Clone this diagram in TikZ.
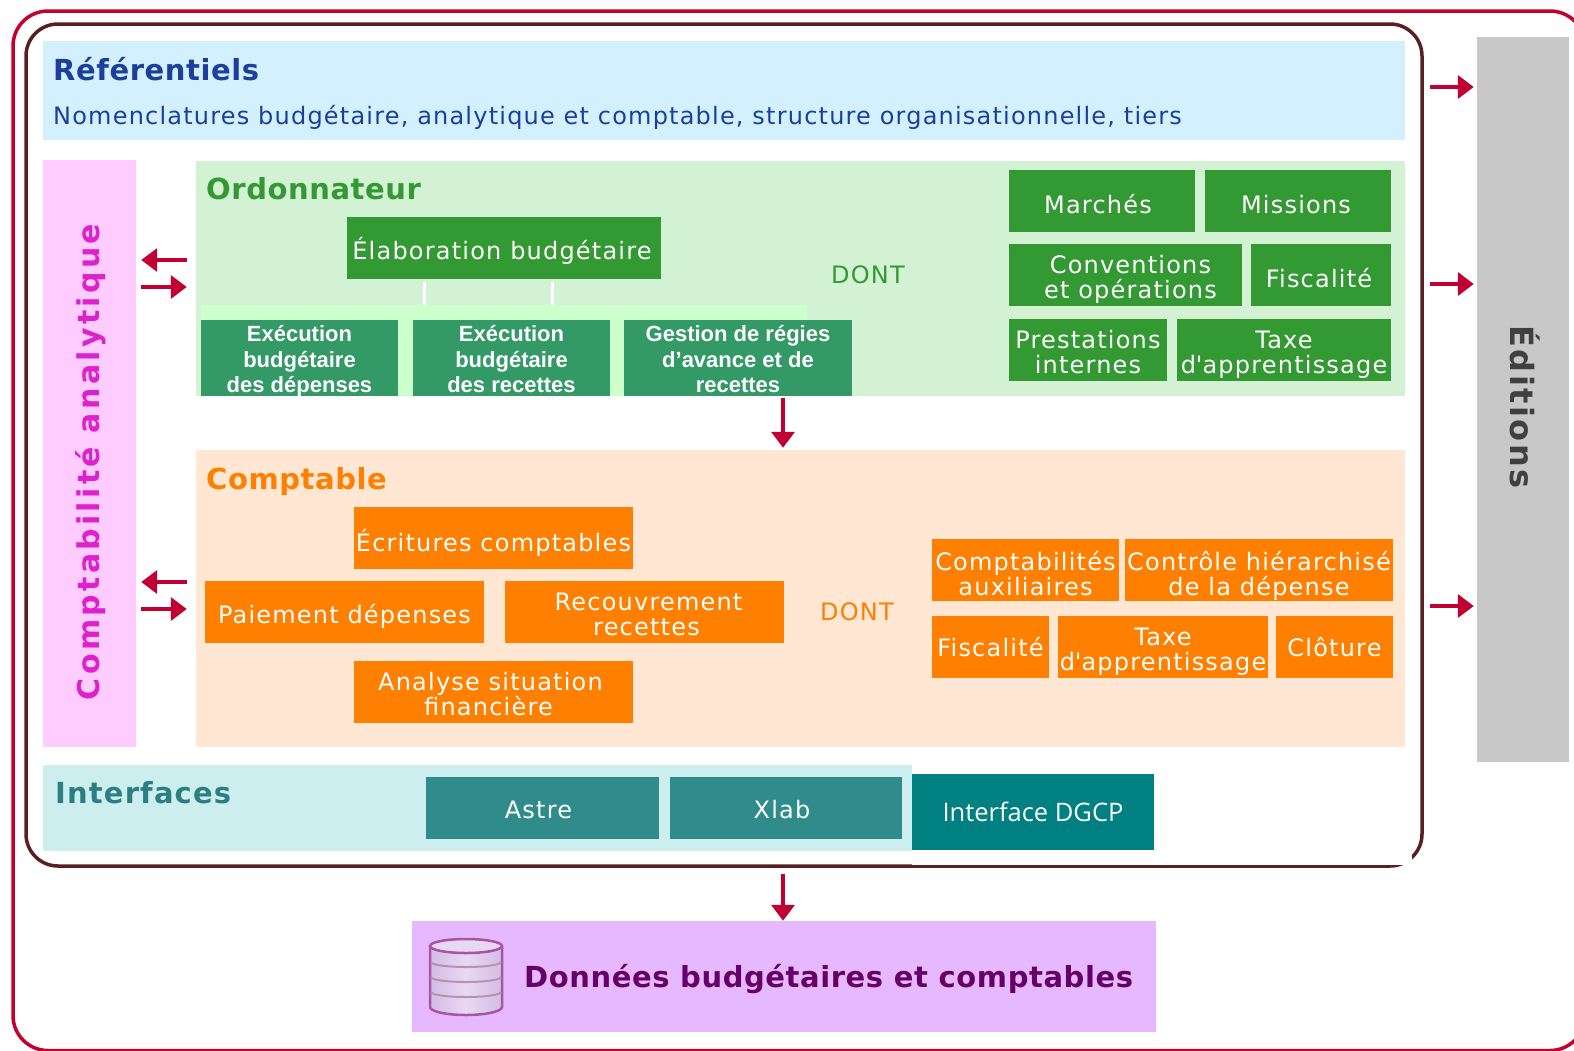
\documentclass[tikz,border=0pt]{standalone}
\usepackage{fontspec}
\setmainfont[LetterSpace=5]{DejaVu Sans}
\newfontfamily\titlefont[LetterSpace=2]{DejaVu Sans}
\newfontfamily\widefont[LetterSpace=11]{DejaVu Sans}
\newfontfamily\editfont[LetterSpace=7.5]{DejaVu Sans}
\newfontfamily\interfont[LetterSpace=4]{DejaVu Sans}
\newfontfamily\arialfont{Liberation Sans}
\newfontfamily\dgcpfont{Open Sans}
\usetikzlibrary{arrows.meta}
\definecolor{framered}{HTML}{C4002F}
\definecolor{framedark}{HTML}{5A1F22}
\definecolor{flowred}{HTML}{C00033}
\definecolor{refblue}{HTML}{D4F0FF}
\definecolor{refnavy}{HTML}{1C3F9E}
\definecolor{anapink}{HTML}{FFCCFF}
\definecolor{anamagenta}{HTML}{DD22CC}
\definecolor{ordopale}{HTML}{D3F1D3}
\definecolor{ordoband}{HTML}{CCFFCC}
\definecolor{ordogreen}{HTML}{339933}
\definecolor{execgreen}{HTML}{339966}
\definecolor{comptapale}{HTML}{FFE7D3}
\definecolor{comptaorange}{HTML}{FF7F00}
\definecolor{interpale}{HTML}{CCEEEE}
\definecolor{interteal}{HTML}{2F8C8A}
\definecolor{interdark}{HTML}{2B7F7F}
\definecolor{dgcpteal}{HTML}{008080}
\definecolor{editgray}{HTML}{C8C8C8}
\definecolor{datamauve}{HTML}{E6B8FF}
\definecolor{dataplum}{HTML}{660066}
\definecolor{baseedge}{HTML}{A855A8}
\definecolor{baselight}{HTML}{E8D8F2}
\definecolor{basedark}{HTML}{D4BCE4}
\tikzset{x=1pt,y=-1pt,
    zone/.style={fill=#1,inner sep=0pt},
    boxbase/.style={inner sep=0pt,text=white,align=center,
        font=\fontsize{24}{25}\selectfont},
    oneline/.style={text depth=0pt,text height=#1},
    oneline/.default=24pt,
    twoline/.style={text depth=0pt,text height=#1},
    twoline/.default=47pt,
    ordobox/.style={boxbase,fill=ordogreen,minimum height=62pt},
    execbox/.style={boxbase,fill=execgreen,minimum height=76pt,text depth=0pt,text height=69pt,
        font=\arialfont\bfseries\fontsize{22}{25.5}\selectfont},
    orangebox/.style={boxbase,fill=comptaorange,minimum height=62pt},
    tealbox/.style={boxbase,fill=interteal,minimum height=62pt},
    zonetitle/.style={anchor=west,inner sep=0pt,font=\titlefont\bfseries\fontsize{29}{30}\selectfont},
    dont/.style={inner sep=0pt,font=\fontsize{24}{25}\selectfont},
    flow/.style={draw=flowred,line width=3.5pt,-{Triangle[length=16pt,width=23pt]}},
    stub/.style={draw=white,line width=3pt,shorten <=3pt}}

\begin{document}
\begin{tikzpicture}
\useasboundingbox (0,0) rectangle (1574,1050);
\clip (0,0) rectangle (1574,1050);
\node[draw=framered,line width=3.5pt,rounded corners=35pt,minimum width=1572pt,minimum height=1039.5pt] (outer) at (799,530.75) {};
\node[draw=framedark,line width=3.5pt,rounded corners=32pt,minimum width=1396pt,minimum height=842pt] (frame) at (724,445) {};
\fill[white] (912,851) rectangle (1412,865);

\node[zone=refblue,minimum width=1362pt,minimum height=99pt] (referentiels) at (724,90.5) {};
\node[zonetitle,text=refnavy] (reftitle) at (53,69) {Référentiels};
\node[anchor=west,inner sep=0pt,text=refnavy,font=\fontsize{24}{25}\selectfont] (reftext) at (53,117)
    {Nomenclatures budgétaire, analytique et comptable, structure organisationnelle, tiers};

\node[zone=anapink,minimum width=93pt,minimum height=587pt] (analytique) at (89.5,453.5) {};
\node[rotate=90,inner sep=0pt,text=anamagenta,font=\widefont\bfseries\fontsize{30}{30}\selectfont] (analytext) at (90.5,462) {Comptabilité analytique};

% ordonnateur
\node[zone=ordopale,minimum width=1209pt,minimum height=235pt] (ordo) at (800.5,278.5) {};
\node[zonetitle,text=ordogreen] (ordotitle) at (206,189) {Ordonnateur};
\node[ordobox,oneline=22pt,minimum width=314pt] (elab) at (504,248) {\hspace*{-4pt}Élaboration budgétaire};
\node[zone=ordoband,minimum width=606pt,minimum height=91pt] (execband) at (504,350.5) {};
\coordinate (stuba) at (424,0);
\coordinate (stubb) at (552,0);
\draw[stub] (elab.south -| stuba) -- (execband.north -| stuba);
\draw[stub] (elab.south -| stubb) -- (execband.north -| stubb);
\node[execbox,minimum width=197pt] (execdep) at (299.5,358) {Exécution\\budgétaire\\des dépenses};
\node[execbox,minimum width=197pt] (execrec) at (511.5,358) {Exécution\\budgétaire\\des recettes};
\node[execbox,minimum width=228pt] (regies) at (738,358) {Gestion de régies\\d’avance et de\\recettes};
\node[dont,text=ordogreen] (ordodont) at (868,275) {DONT};
\node[ordobox,oneline,minimum width=186pt] (marches) at (1102,201) {\hspace*{-8pt}Marchés};
\node[ordobox,oneline,minimum width=186pt] (missions) at (1298,201) {\hspace*{-4pt}Missions};
\node[ordobox,twoline,minimum width=233pt] (conv) at (1125.5,275) {\hspace*{10pt}Conventions\\\hspace*{10pt}et opérations};
\node[ordobox,oneline,minimum width=140pt] (fiscord) at (1321,275) {\hspace*{-4pt}Fiscalité};
\node[ordobox,twoline,minimum width=158pt] (prest) at (1088,350) {Prestations\\internes};
\node[ordobox,twoline,minimum width=214pt] (taxeord) at (1284,350) {Taxe\\d\textquotesingle apprentissage};

% comptable
\node[zone=comptapale,minimum width=1209pt,minimum height=297pt] (compta) at (800.5,598.5) {};
\node[zonetitle,text=comptaorange] (comptatitle) at (206,481) {Comptable};
\node[orangebox,oneline=26pt,minimum width=279pt] (ecrit) at (493.5,538) {Écritures comptables};
\node[orangebox,oneline=23pt,minimum width=279pt] (paie) at (344.5,612) {Paiement dépenses};
\node[orangebox,twoline,minimum width=279pt] (recouv) at (644.5,612) {\hspace*{8pt}Recouvrement\\\hspace*{4pt}recettes};
\node[orangebox,twoline,minimum width=279pt] (analyse) at (493.5,691.5) {\hspace*{-6pt}Analyse situation\\\hspace*{-10pt}financière};
\node[dont,text=comptaorange] (comptadont) at (857,612) {DONT};
\node[orangebox,twoline=50pt,minimum width=187pt] (caux) at (1025.5,570) {Comptabilités\\auxiliaires};
\node[orangebox,twoline=50pt,minimum width=268pt] (ctrl) at (1259,570) {Contrôle hiérarchisé\\de la dépense};
\node[orangebox,oneline=18pt,minimum width=117pt] (fisccpt) at (990.5,647) {Fiscalité};
\node[orangebox,twoline,minimum width=210pt] (taxecpt) at (1163,647) {Taxe\\d\textquotesingle apprentissage};
\node[orangebox,oneline=18pt,minimum width=117pt] (cloture) at (1334.5,647) {Clôture};

% interfaces
\node[zone=interpale,minimum width=869pt,minimum height=86pt] (inter) at (477.5,808) {};
\node[zonetitle,text=interdark,font=\interfont\bfseries\fontsize{29}{30}\selectfont] (intertitle) at (55,793) {Interfaces};
\node[tealbox,oneline=20pt,minimum width=233pt] (astre) at (542.5,808) {\hspace*{-8pt}Astre};
\node[tealbox,oneline=20pt,minimum width=232pt] (xlab) at (786,808) {\hspace*{-8pt}Xlab};
\node[boxbase,fill=dgcpteal,minimum width=242pt,minimum height=76pt,font=\dgcpfont\fontsize{25.5}{27}\selectfont] (dgcp) at (1033,812) {Interface DGCP};

\node[zone=editgray,minimum width=92pt,minimum height=725pt] (editions) at (1523,399.5) {};
\node[rotate=-90,inner sep=0pt,text=black!75,font=\editfont\bfseries\fontsize{32}{32}\selectfont] (editext) at (1525,407) {Éditions};

\node[zone=datamauve,minimum width=744pt,minimum height=111pt] (donnees) at (784,976.5) {};
\node[zonetitle,text=dataplum] (donneestext) at (524,979) {Données budgétaires et comptables};
% base
\draw[draw=baseedge,line width=2.5pt,left color=basedark,right color=basedark,middle color=baselight]
    (430,946) -- (430,1007) arc[start angle=180,end angle=360,x radius=36,y radius=-8] -- (502,946);
\draw[draw=baseedge,line width=2.5pt,fill=baselight] (466,946) ellipse[x radius=36,y radius=7];
\foreach \ligne in {962,977,992}
    \draw[gray!60!violet!60,line width=2pt] (431,\ligne) arc[start angle=180,end angle=360,x radius=35,y radius=-5];

\coordinate (fluxa) at (0,260);
\coordinate (fluxb) at (0,287);
\coordinate (fluxc) at (0,582);
\coordinate (fluxd) at (0,609);
\coordinate (fluxe) at (0,87);
\coordinate (fluxf) at (0,284);
\coordinate (fluxg) at (0,606);
\coordinate (axe) at (783,0);
\draw[flow,shorten <=9pt,shorten >=5pt] (ordo.west |- fluxa) -- (analytique.east |- fluxa);
\draw[flow,shorten <=5pt,shorten >=9pt] (analytique.east |- fluxb) -- (ordo.west |- fluxb);
\draw[flow,shorten <=9pt,shorten >=5pt] (compta.west |- fluxc) -- (analytique.east |- fluxc);
\draw[flow,shorten <=5pt,shorten >=9pt] (analytique.east |- fluxd) -- (compta.west |- fluxd);
\foreach \flux in {fluxe,fluxf,fluxg}
    \draw[flow,shorten <=6pt,shorten >=3pt] (frame.east |- \flux) -- (editions.west |- \flux);
\draw[flow,shorten <=2pt,shorten >=2pt] (ordo.south -| axe) -- (compta.north -| axe);
\draw[flow,shorten <=6pt] (frame.south -| axe) -- (donnees.north -| axe);
\end{tikzpicture}
\end{document}
